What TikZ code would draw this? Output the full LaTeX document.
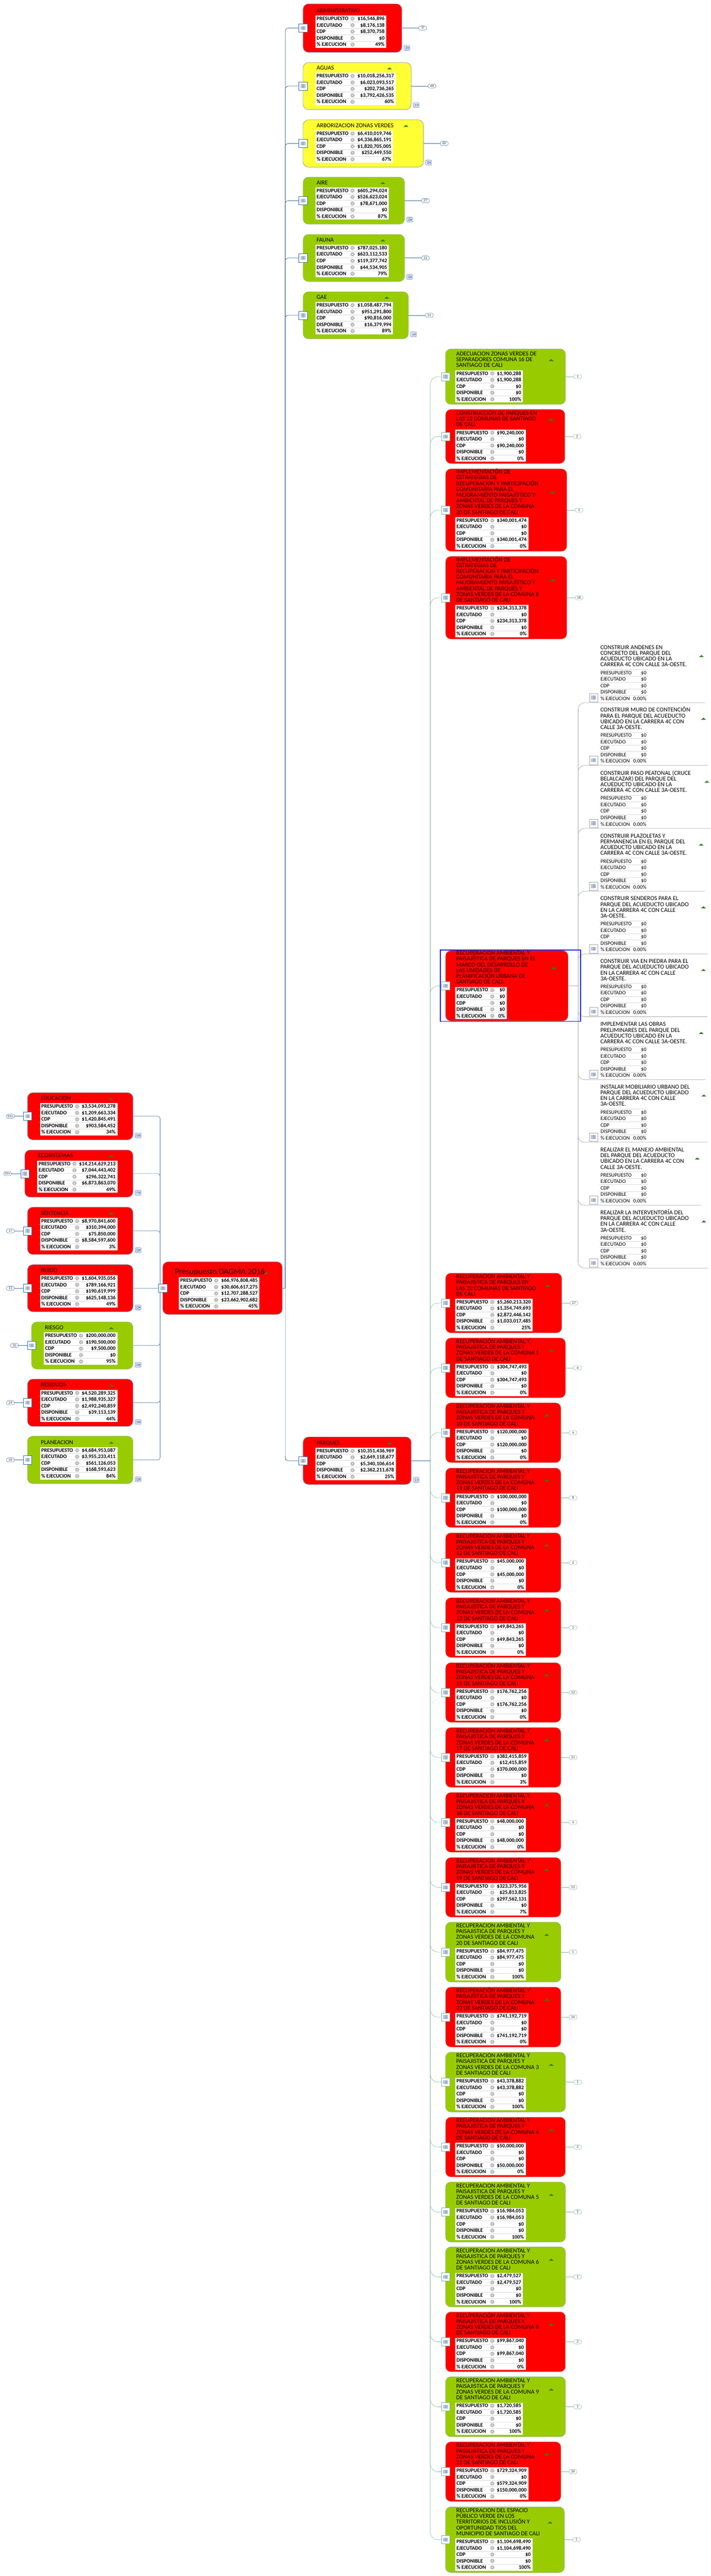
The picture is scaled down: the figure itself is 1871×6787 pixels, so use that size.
\documentclass[tikz,border=0pt]{standalone}
\usepackage{fontspec}
\setmainfont{Carlito}
\usetikzlibrary{calc}
\definecolor{fRed}{HTML}{FF0000}
\definecolor{fGreen}{HTML}{99CC00}
\definecolor{fYellow}{HTML}{FFFF33}
\definecolor{tRed}{HTML}{260000}
\definecolor{bdBlue}{HTML}{7484A8}
\definecolor{bdTan}{HTML}{A89C84}
\definecolor{bdGreen}{HTML}{7FAE70}
\definecolor{linkDark}{HTML}{3F6F9E}
\definecolor{linkLight}{HTML}{9FBCD6}
\definecolor{linkGreen}{HTML}{7FB59A}
\definecolor{linkGray}{HTML}{A8A8A8}
\definecolor{rowLine}{HTML}{DADADA}
\definecolor{gearGray}{HTML}{B4B4B4}
\definecolor{triGreen}{HTML}{2E7F1E}
\definecolor{iconFill}{HTML}{B6CAE6}
\definecolor{vidEdge}{HTML}{6F86B8}
\definecolor{frameBlue}{HTML}{1A1AE6}
\pgfdeclarelayer{bg}
\pgfsetlayers{bg,main}
\tikzset{
  budget/.style={rectangle,rounded corners=14pt,line width=0.8pt,inner sep=0pt},
  titletext/.style={anchor=south west,align=left,inner sep=0pt,text depth=3pt},
  rowlab/.style={anchor=base west,inner sep=0pt,font=\fontsize{14}{15}\selectfont\bfseries},
  rowval/.style={anchor=base east,inner sep=0pt,font=\fontsize{14}{15}\selectfont\bfseries},
  rowlabw/.style={anchor=base west,inner sep=0pt,font=\fontsize{14}{15}\selectfont},
  rowvalw/.style={anchor=base east,inner sep=0pt,font=\fontsize{14}{15}\selectfont},
  tablebox/.style={rectangle,fill=white,anchor=north west,inner sep=0pt},
  docicon/.style={rectangle,fill=white,line width=0.8pt,minimum width=22pt,minimum height=22pt,inner sep=0pt},
  pillbox/.style={rectangle,rounded corners=5pt,fill=white,line width=0.7pt,minimum width=21pt,minimum height=11pt,inner sep=0pt,font=\fontsize{10}{10}\selectfont,text=black!75},
  linkA/.style={linkDark,line width=0.9pt,rounded corners=6pt},
  linkAs/.style={linkDark,line width=0.9pt},
  linkB/.style={linkDark,line width=1.1pt,rounded corners=8pt},
  linkBstem/.style={linkLight,line width=1.6pt,rounded corners=8pt},
  linkC/.style={linkGreen,line width=0.8pt,rounded corners=20pt},
  linkD/.style={linkGray,line width=1pt,rounded corners=16pt},
}
\newcommand{\GEAR}[2]{%
  \draw[gearGray,line width=1.7pt,dash pattern=on 1.5pt off 1.5pt] (#1,#2) circle (5.2pt);
  \fill[gearGray] (#1,#2) circle (4.4pt);
  \fill[white] (#1,#2) circle (1.8pt);
}
\newcommand{\TRI}[2]{%
  \fill[triGreen] ($(#1,#2)+(-6.5,2.6)$) -- ($(#1,#2)+(6.5,2.6)$) -- ($(#1,#2)+(0,-2.8)$) -- cycle;
}
\newcommand{\ICON}[4]{% name, x, y, edge colour
  \node[docicon,draw=#4] (#1) at (#2,#3) {};
  \fill[iconFill] ($(#2,#3)+(-6.5,-5)$) rectangle ($(#2,#3)+(6.5,5)$);
  \fill[iconFill!70!black!70] ($(#2,#3)+(-2,-5)$) rectangle ($(#2,#3)+(3.5,5)$);
}
\newcommand{\VIDEO}[3]{% name, x, y
  \node[rectangle,rounded corners=1.5pt,draw=vidEdge,fill=iconFill!50,line width=0.8pt,minimum width=15pt,minimum height=13pt,inner sep=0pt] (#1) at (#2,#3) {};
  \fill[vidEdge] ($(#2,#3)+(-3.5,-3)$) rectangle ($(#2,#3)+(1.5,3)$);
  \fill[white] ($(#2,#3)+(-2,-1.8)$) rectangle ($(#2,#3)+(0.3,1.8)$);
  \fill[vidEdge] ($(#2,#3)+(1.5,0)$) -- ($(#2,#3)+(5.5,-3)$) -- ($(#2,#3)+(5.5,3)$) -- cycle;
}
\pgfkeys{/bb/.is family,/bb,
  id/.store in=\bbid, col/.store in=\bbcol, tc/.store in=\bbtc, bd/.store in=\bbbd,
  ie/.store in=\bbie, pe/.store in=\bbpe,
  L/.store in=\bbL, R/.store in=\bbR, T/.store in=\bbT, B/.store in=\bbB,
  tabr/.store in=\bbtabr, tabo/.store in=\bbtabo, gearo/.store in=\bbgearo, tito/.store in=\bbtito,
  gapb/.store in=\bbgapb, trio/.store in=\bbtrio, n/.store in=\bbn,
  side/.store in=\bbside, pill/.store in=\bbpill, pillo/.store in=\bbpillo, vid/.store in=\bbvid,
  title/.store in=\bbtitle, tsize/.store in=\bbtsize,
  red/.style={col=fRed,tc=tRed},
  grn/.style={col=fGreen,tc=black},
  yel/.style={col=fYellow,tc=black},
  sLeft/.style={L=72.4,R=350,side=0,pillo=45,vid=1,tabo=32.6,gearo=130.6,tito=35.2,gapb=96.4,trio=57,n=1,tabr=308.7,bd=bdBlue,ie=linkDark,pe=linkDark,tsize=16},
  sTop/.style={L=798,side=1,pillo=55,vid=1,tabo=32,gearo=130,tito=35.3,gapb=97,trio=57,n=1,bd=bdBlue,ie=linkDark,pe=linkDark,tsize=16},
  sCol/.style={L=1173,side=1,pillo=32,vid=0,tabo=25,gearo=123,tito=28,gapb=90,trio=37.5,n=4,bd=bdTan,ie=linkGreen,pe=linkGreen,tsize=16},
}
\newcommand{\ROW}[3]{% k, label, value
  \pgfmathsetmacro\rowY{\tabT+17*(#1-1)+12.9}
  \node[rowlab] (\bbid-lab#1) at (\labX,\rowY) {#2};
  \node[rowval] (\bbid-val#1) at (\valX,\rowY) {#3};
  \pgfmathsetmacro\gearY{\tabT+17*(#1-1)+8.5}
  \GEAR{\gearX}{\gearY}
}
\newcommand{\BB}[6]{%
  \pgfkeys{/bb,#1}%
  \pgfmathsetmacro\bbW{\bbR-\bbL}%
  \pgfmathsetmacro\bbH{\bbB-\bbT}%
  \pgfmathsetmacro\bbCx{(\bbR+\bbL)/2}%
  \pgfmathsetmacro\bbCy{(\bbT+\bbB)/2}%
  \pgfmathsetmacro\tabX{\bbL+\bbtabo}%
  \pgfmathsetmacro\tabW{\bbtabr-\tabX}%
  \pgfmathsetmacro\tabT{\bbB-\bbgapb}%
  \pgfmathsetmacro\labX{\tabX+3.5}%
  \pgfmathsetmacro\valX{\bbtabr-4.3}%
  \pgfmathsetmacro\gearX{\bbL+\bbgearo}%
  \pgfmathsetmacro\titX{\bbL+\bbtito}%
  \pgfmathsetmacro\titY{\tabT-4.5}%
  \pgfmathsetmacro\triX{\bbR-\bbtrio}%
  \pgfmathsetmacro\triY{\tabT-11.5-(\bbn-1)*7.6}%
  \node[budget,fill=\bbcol,draw=\bbbd,minimum width=\bbW pt,minimum height=\bbH pt] (\bbid) at (\bbCx,\bbCy) {};
  \node[titletext,text=\bbtc,font=\fontsize{\bbtsize}{15.2}\selectfont] (\bbid-title) at (\titX,\titY) {\bbtitle};
  \TRI{\triX}{\triY}
  \node[tablebox,minimum width=\tabW pt,minimum height=85pt] (\bbid-table) at (\tabX,\tabT) {};
  \foreach \k in {1,2,3,4} {\pgfmathsetmacro\sepY{\tabT+17*\k}\draw[rowLine,line width=1.1pt] (\tabX,\sepY) -- (\bbtabr,\sepY);}
  \ROW{1}{PRESUPUESTO}{\$#2}
  \ROW{2}{EJECUTADO}{\$#3}
  \ROW{3}{CDP}{\$#4}
  \ROW{4}{DISPONIBLE}{\$#5}
  \ROW{5}{\% EJECUCION}{#6\%}
  \ICON{\bbid-icon}{\bbL}{\bbCy}{\bbie}
  \ifnum\bbside=0
    \pgfmathsetmacro\pX{\bbL-\bbpillo}%
    \node[pillbox,draw=\bbpe] (\bbid-pill) at (\pX,\bbCy) {\bbpill};
    \draw[\bbpe,line width=0.8pt] (\bbid-pill.east) -- (\bbid-icon.west);
  \fi
  \ifnum\bbside=1
    \pgfmathsetmacro\pX{\bbR+\bbpillo}%
    \node[pillbox,draw=\bbpe] (\bbid-pill) at (\pX,\bbCy) {\bbpill};
    \draw[\bbpe,line width=0.8pt] (\bbid.east) -- (\bbid-pill.west);
  \fi
  \ifnum\bbvid=1
    \pgfmathsetmacro\vX{\bbR+13.5}%
    \pgfmathsetmacro\vY{\tabT+85}%
    \VIDEO{\bbid-video}{\vX}{\vY}
  \fi
}
\newcommand{\CHROW}[3]{% k, label, value
  \pgfmathsetmacro\rowY{\chT+17*(#1-1)+12.9}
  \node[rowlabw] (\chid-lab#1) at (1581,\rowY) {#2};
  \node[rowvalw] (\chid-val#1) at (1702,\rowY) {#3};
  \pgfmathsetmacro\sepY{\chT+17*(#1-1)}
  \draw[rowLine,line width=1.1pt] (1578,\sepY) -- (1706.4,\sepY);
}
\newcommand{\CH}[5]{% id, bottom, title, tri x, line end x
  \def\chid{#1}%
  \pgfmathsetmacro\chT{#2-87.6}%
  \pgfmathsetmacro\titY{\chT-4.5}%
  \pgfmathsetmacro\triY{#2-123}%
  \pgfmathsetmacro\icY{#2-13.6}%
  \node[titletext,font=\fontsize{16}{15.2}\selectfont] (#1-title) at (1580.5,\titY) {#3};
  \TRI{#4}{\triY}
  \CHROW{1}{PRESUPUESTO}{\$0}
  \CHROW{2}{EJECUTADO}{\$0}
  \CHROW{3}{CDP}{\$0}
  \CHROW{4}{DISPONIBLE}{\$0}
  \CHROW{5}{\% EJECUCION}{0.00\%}
  \ICON{#1-icon}{1562.7}{\icY}{linkGray}
  \coordinate (#1-end) at (#5,#2);
}
\begin{document}
\begin{tikzpicture}[x=1pt,y=-1pt]
\useasboundingbox (0,0) rectangle (1871,6787);
\begin{pgfonlayer}{bg}
\fill[white] (0,0) rectangle (1871,6787);
\end{pgfonlayer}
\coordinate (stemA) at (421.4,0);
\coordinate (stemB) at (751,0);
\coordinate (stemC) at (1133,0);
\coordinate (stemD) at (1522.2,0);

% root
\BB{id=main,L=428.6,R=743,T=3324.5,B=3463,side=2,vid=0,tabo=42.4,gearo=140.4,tito=31.4,gapb=97.6,trio=42,n=1,tabr=683,bd=bdBlue,ie=linkDark,pe=linkDark,tsize=22,red,title={Presupuesto DAGMA 2016}}{66,976,808,485}{30,606,617,275}{12,707,288,527}{23,662,902,682}{45}

% left branch
\BB{id=l1,sLeft,red,T=2879,B=3003,pill={99+},title={EDUCACION}}{3,534,093,278}{1,209,663,334}{1,420,845,491}{903,584,452}{34}
\BB{id=l2,sLeft,red,L=65.3,tabo=32.7,gearo=130.7,T=3030,B=3154,pill={99+},title={ECOSISTEMAS}}{14,214,629,213}{7,044,443,402}{296,322,741}{6,873,863,070}{49}
\BB{id=l3,sLeft,red,T=3180.6,B=3305,pill={17},title={SENTENCIA}}{8,970,841,600}{310,394,000}{75,850,000}{8,584,597,600}{3}
\BB{id=l4,sLeft,red,T=3332,B=3456,pill={13},title={RUIDO}}{1,604,935,056}{789,166,921}{190,619,999}{625,148,136}{49}
\BB{id=l5,sLeft,grn,L=83,tabo=32.3,gearo=130.3,T=3483,B=3607,pill={70},bd=bdGreen,title={RIESGO}}{200,000,000}{190,500,000}{9,500,000}{0}{95}
\BB{id=l6,sLeft,red,T=3633.6,B=3758,pill={29},title={RESIDUOS}}{4,520,289,325}{1,988,935,327}{2,492,240,859}{39,113,139}{44}
\BB{id=l7,sLeft,grn,T=3784,B=3909,pill={39},bd=bdGreen,title={PLANEACION}}{4,684,953,087}{3,955,233,411}{561,126,053}{168,593,623}{84}

% top branch
\BB{id=t1,sTop,red,R=1057.7,T=10.3,B=137.8,tabr=1017,pill={4},title={ADMINISTRATIVO}}{16,546,896}{8,176,138}{8,370,758}{0}{49}
\BB{id=t2,sTop,yel,R=1082.3,T=164.8,B=288.8,tabr=1041.7,pill={48},title={AGUAS}}{10,018,256,317}{6,023,093,517}{202,736,265}{3,792,426,535}{60}
\BB{id=t3,sTop,yel,R=1114.7,T=315.7,B=440.3,tabr=1034.7,trio=46,pill={60},title={ARBORIZACION ZONAS VERDES}}{6,410,019,746}{4,336,865,191}{1,820,705,005}{252,449,550}{67}
\BB{id=t4,sTop,grn,R=1065,T=466.7,B=590.7,tabr=1023.7,bd=bdGreen,pill={27},title={AIRE}}{605,294,024}{526,623,024}{78,671,000}{0}{87}
\BB{id=t5,sTop,grn,R=1065,T=617.7,B=741.7,tabr=1023.7,bd=bdGreen,pill={22},title={FAUNA}}{787,025,180}{623,112,533}{119,377,742}{44,534,905}{79}
\BB{id=t6,sTop,grn,R=1075.3,T=768.7,B=892.7,tabr=1034.7,bd=bdGreen,pill={31},title={GAE}}{1,058,487,794}{951,291,800}{90,816,000}{16,379,994}{89}
\BB{id=parques,sTop,red,R=1082.4,T=3786,B=3911,tabr=1042,side=2,title={PARQUES}}{10,351,436,969}{2,649,118,677}{5,340,106,614}{2,362,211,678}{25}

% parks branch
\BB{id=a1,sCol,grn,bd=bdGreen,R=1488.7,T=919.4,B=1065.3,tabr=1376.7,n=3,pill={1},title={ADECUACION ZONAS VERDES DE\\SEPARADORES  COMUNA 16 DE\\SANTIAGO DE CALI}}{1,900,288}{1,900,288}{0}{0}{100}
\BB{id=a2,sCol,red,R=1487.3,T=1078.6,B=1221.4,tabr=1383.7,n=3,pill={2},title={CONSTRUCCIÓN DE PARQUES EN\\LAS 22 COMUNAS DE SANTIAGO\\DE CALI}}{90,240,000}{0}{90,240,000}{0}{0}
\BB{id=a3,sCol,red,R=1492.3,T=1235.2,B=1452.6,tabr=1390.7,n=8,pill={3},title={IMPLEMENTACIÓN DE\\ESTRATEGIAS DE\\RECUPERACIÓN Y PARTICIPACIÓN\\COMUNITARIA PARA EL\\MEJORAMIENTO PAISAJÍSTICO Y\\AMBIENTAL DE PARQUES Y\\ZONAS VERDES DE LA COMUNA\\20 DE SANTIAGO DE CALI}}{340,001,474}{0}{0}{340,001,474}{0}
\BB{id=a4,sCol,red,R=1492.3,T=1465.8,B=1683.7,tabr=1390.7,n=8,pill={18},title={IMPLEMENTACIÓN DE\\ESTRATEGIAS DE\\RECUPERACION Y PARTICIPACIÓN\\COMUNITARIA PARA EL\\MEJORAMIENTO PAISAJÍSTICO Y\\AMBIENTAL DE PARQUES Y\\ZONAS VERDES DE LA COMUNA 6\\DE SANTIAGO DE CALI.}}{234,313,378}{0}{234,313,378}{0}{0}
\BB{id=rec,sCol,red,R=1495.6,T=2504.6,B=2690,tabr=1333.8,n=6,side=2,title={RECUPERACIÓN AMBIENTAL Y\\PAISAJÍSTICA DE PARQUES EN EL\\MARCO DEL DESARROLLO DE\\LAS UNIDADES DE\\PLANIFICACIÓN URBANA DE\\SANTIAGO DE CALI.}}{0}{0}{0}{0}{0}
\node[rectangle,draw=frameBlue,line width=2pt,minimum width=369.7pt,minimum height=188.3pt,inner sep=0pt] (recframe) at (1343.85,2596.85) {};

\BB{id=b1,sCol,red,R=1479,T=3354.2,B=3511.8,tabr=1402,pill={27},title={RECUPERACION AMBIENTAL Y\\PAISAJISTICA DE PARQUES EN\\LAS 22 COMUNAS DE SANTIAGO\\DE CALI}}{5,260,213,320}{1,354,749,693}{2,872,446,142}{1,033,017,485}{25}
\BB{id=b2,sCol,red,R=1488.8,T=3525,B=3682.7,tabr=1391,pill={6},title={RECUPERACIÓN AMBIENTAL Y\\PAISAJISTICA DE PARQUES Y\\ZONAS VERDES DE LA COMUNA 1\\DE SANTIAGO DE CALI}}{304,747,493}{0}{304,747,493}{0}{0}
\BB{id=b3,sCol,red,R=1476.7,T=3696,B=3853.6,tabr=1391,pill={4},title={RECUPERACION AMBIENTAL Y\\PAISAJISTICA DE PARQUES Y\\ZONAS VERDES DE LA COMUNA\\10 DE SANTIAGO DE CALI}}{120,000,000}{0}{120,000,000}{0}{0}
\BB{id=b4,sCol,red,R=1476.7,T=3867.6,B=4024.5,tabr=1391,pill={8},title={RECUPERACION AMBIENTAL Y\\PAISAJISTICA DE PARQUES Y\\ZONAS VERDES DE LA COMUNA\\11 DE SANTIAGO DE CALI}}{100,000,000}{0}{100,000,000}{0}{0}
\BB{id=b5,sCol,red,R=1476.7,T=4038.5,B=4195.4,tabr=1384,pill={2},title={RECUPERACION AMBIENTAL Y\\PAISAJISTICA DE PARQUES Y\\ZONAS VERDES DE LA COMUNA\\12 DE SANTIAGO DE CALI}}{45,000,000}{0}{45,000,000}{0}{0}
\BB{id=b6,sCol,red,R=1476.7,T=4209.5,B=4366.8,tabr=1383.7,pill={2},title={RECUPERACION AMBIENTAL Y\\PAISAJISTICA DE PARQUES Y\\ZONAS VERDES DE LA COMUNA\\13 DE SANTIAGO DE CALI}}{49,843,265}{0}{49,843,265}{0}{0}
\BB{id=b7,sCol,red,R=1476.7,T=4380.6,B=4537.8,tabr=1390.7,pill={12},title={RECUPERACIÓN AMBIENTAL Y\\PAISAJISTICA DE PARQUES Y\\ZONAS VERDES DE LA COMUNA\\15 DE SANTIAGO DE CALI}}{176,762,256}{0}{176,762,256}{0}{0}
\BB{id=b8,sCol,red,R=1476.7,T=4551.5,B=4709,tabr=1390.7,pill={21},title={RECUPERACION AMBIENTAL Y\\PAISAJISTICA DE PARQUES Y\\ZONAS VERDES DE LA COMUNA\\17 DE SANTIAGO DE CALI}}{382,415,859}{12,415,859}{370,000,000}{0}{3}
\BB{id=b9,sCol,red,R=1476.7,T=4722.4,B=4880,tabr=1383.7,pill={4},title={RECUPERACION AMBIENTAL Y\\PAISAJISTICA DE PARQUES Y\\ZONAS VERDES DE LA COMUNA\\18 DE SANTIAGO DE CALI}}{48,000,000}{0}{0}{48,000,000}{0}
\BB{id=b10,sCol,red,R=1476.7,T=4893.9,B=5051,tabr=1390.7,pill={15},title={RECUPERACION AMBIENTAL Y\\PAISAJISTICA DE PARQUES Y\\ZONAS VERDES DE LA COMUNA\\19 DE SANTIAGO DE CALI}}{323,375,956}{25,813,825}{297,562,131}{0}{7}
\BB{id=b11,sCol,grn,bd=bdGreen,R=1476.7,T=5064.4,B=5222,tabr=1383.7,pill={1},title={RECUPERACION AMBIENTAL Y\\PAISAJISTICA DE PARQUES Y\\ZONAS VERDES DE LA COMUNA\\20 DE SANTIAGO DE CALI}}{84,977,475}{84,977,475}{0}{0}{100}
\BB{id=b12,sCol,red,R=1476.7,T=5235.4,B=5393.3,tabr=1390.7,pill={16},title={RECUPERACIÓN AMBIENTAL Y\\PAISAJÍSTICA DE PARQUES Y\\ZONAS VERDES DE LA COMUNA\\22 DE SANTIAGO DE CALI}}{741,192,719}{0}{0}{741,192,719}{0}
\BB{id=b13,sCol,grn,bd=bdGreen,R=1488.7,T=5407,B=5564.3,tabr=1383.7,pill={1},title={RECUPERACION AMBIENTAL Y\\PAISAJISTICA DE PARQUES Y\\ZONAS VERDES DE LA COMUNA 3\\DE SANTIAGO DE CALI}}{43,378,882}{43,378,882}{0}{0}{100}
\BB{id=b14,sCol,red,R=1488.7,T=5578,B=5735.4,tabr=1383.7,pill={2},title={RECUPERACION AMBIENTAL Y\\PAISAJISTICA DE PARQUES Y\\ZONAS VERDES DE LA COMUNA 4\\DE SANTIAGO DE CALI}}{50,000,000}{0}{0}{50,000,000}{0}
\BB{id=b15,sCol,grn,bd=bdGreen,R=1488.7,T=5749,B=5907,tabr=1383.7,pill={1},title={RECUPERACION AMBIENTAL Y\\PAISAJISTICA DE PARQUES Y\\ZONAS VERDES DE LA COMUNA 5\\DE SANTIAGO DE CALI}}{16,984,053}{16,984,053}{0}{0}{100}
\BB{id=b16,sCol,grn,bd=bdGreen,R=1488.7,T=5919.8,B=6078,tabr=1376.7,pill={1},title={RECUPERACION AMBIENTAL Y\\PAISAJISTICA DE PARQUES Y\\ZONAS VERDES DE LA COMUNA 6\\DE SANTIAGO DE CALI}}{2,479,527}{2,479,527}{0}{0}{100}
\BB{id=b17,sCol,red,R=1488.7,T=6091,B=6249,tabr=1383.7,pill={2},title={RECUPERACIÓN AMBIENTAL Y\\PAISAJISTICA DE PARQUES Y\\ZONAS VERDES DE LA COMUNA 8\\DE SANTIAGO DE CALI}}{99,867,040}{0}{99,867,040}{0}{0}
\BB{id=b18,sCol,grn,bd=bdGreen,R=1488.7,T=6262,B=6420,tabr=1376.7,pill={1},title={RECUPERACION AMBIENTAL Y\\PAISAJISTICA DE PARQUES Y\\ZONAS VERDES DE LA COMUNA 9\\DE SANTIAGO DE CALI}}{1,720,585}{1,720,585}{0}{0}{100}
\BB{id=b19,sCol,red,R=1476.7,T=6433.4,B=6590.6,tabr=1390.7,pill={26},title={RECUPERACION AMBIENTAL Y\\PASIAJISTICA DE PARQUES Y\\ZONAS VERDES DE LA COMUNA\\21 DE SANTIAGO DE CALI}}{729,324,909}{0}{579,324,909}{150,000,000}{0}
\BB{id=b20,sCol,grn,bd=bdGreen,R=1485.7,T=6604.8,B=6777.8,tabr=1401.7,n=5,pill={1},title={RECUPERACION DEL ESPACIO\\PÚBLICO VERDE EN LOS\\TERRITORIOS DE INCLUSIÓN Y\\OPORTUNIDAD TIOS DEL\\MUNICIPIO DE SANTIAGO DE CALI}}{1,104,698,490}{1,104,698,490}{0}{0}{100}

% white children of the framed box
\CH{c1}{1851.6}{CONSTRUIR ANDENES EN\\CONCRETO DEL PARQUE  DEL\\ACUEDUCTO UBICADO EN LA\\CARRERA 4C CON CALLE 3A-OESTE.}{1846.8}{1856.6}
\CH{c2}{2016.7}{CONSTRUIR MURO DE CONTENCIÓN\\PARA EL PARQUE  DEL ACUEDUCTO\\UBICADO EN LA CARRERA 4C CON\\CALLE 3A-OESTE.}{1852}{1863}
\CH{c3}{2182.6}{CONSTRUIR PASO PEATONAL (CRUCE\\BELALCAZAR) DEL PARQUE  DEL\\ACUEDUCTO UBICADO EN LA\\CARRERA 4C CON CALLE 3A-OESTE.}{1861}{1871}
\CH{c4}{2348.4}{CONSTRUIR PLAZOLETAS Y\\PERMANENCIA EN EL PARQUE  DEL\\ACUEDUCTO UBICADO EN LA\\CARRERA 4C CON CALLE 3A-OESTE.}{1846}{1856}
\CH{c5}{2513.5}{CONSTRUIR SENDEROS PARA EL\\PARQUE  DEL ACUEDUCTO UBICADO\\EN LA CARRERA 4C CON CALLE\\3A-OESTE.}{1852}{1863}
\CH{c6}{2678.7}{CONSTRUIR VIA EN PIEDRA PARA EL\\PARQUE  DEL ACUEDUCTO UBICADO\\EN LA CARRERA 4C CON CALLE\\3A-OESTE.}{1852}{1862}
\CH{c7}{2844.6}{IMPLEMENTAR LAS OBRAS\\PRELIMINARES DEL PARQUE  DEL\\ACUEDUCTO UBICADO EN LA\\CARRERA 4C CON CALLE 3A-OESTE.}{1846}{1857}
\CH{c8}{3009.4}{INSTALAR MOBILIARIO URBANO DEL\\PARQUE  DEL ACUEDUCTO UBICADO\\EN LA CARRERA 4C CON CALLE\\3A-OESTE.}{1853}{1863}
\CH{c9}{3175.4}{REALIZAR EL MANEJO AMBIENTAL\\DEL PARQUE  DEL ACUEDUCTO\\UBICADO EN LA CARRERA 4C CON\\CALLE 3A-OESTE.}{1835.6}{1846}
\CH{c10}{3341}{REALIZAR LA INTERVENTORÍA DEL\\PARQUE  DEL ACUEDUCTO UBICADO\\EN LA CARRERA 4C CON CALLE\\3A-OESTE.}{1853}{1863.6}

% connectors
\begin{pgfonlayer}{bg}
\foreach \c in {l1,l2,l3,l4,l5,l6,l7}
  \draw[linkA] (\c.east) -- (\c.east -| stemA) -- (main-icon.west -| stemA);
\draw[linkAs] (main-icon.west -| stemA) -- (main-icon.east);
\foreach \c in {t1,t2,t3,t4,t5,t6}
  \draw[linkB] (main.east -| stemB) -- (\c-icon.west -| stemB) -- (\c-icon.west);
\draw[linkBstem] (main.east -| stemB) -- (parques-icon.west -| stemB);
\draw[linkB] (parques-icon.west -| stemB) ++(0,-12) -- (parques-icon.west -| stemB) -- (parques-icon.west);
\draw[linkDark,line width=1.1pt] (main.east) -- (main.east -| stemB);
\foreach \c in {a1,a2,a3,a4,rec,b1,b2,b3,b4,b5,b6,b7,b8,b9,b10,b11,b12,b13,b14,b15,b16,b17,b18,b19,b20}
  \draw[linkC] (parques.east -| stemC) -- (\c-icon.west -| stemC) -- (\c-icon.west);
\draw[linkDark,line width=0.9pt] (parques.east) -- (parques.east -| stemC);
\foreach \c in {c1,c2,c3,c4,c5,c6,c7,c8,c9,c10}
  \draw[linkD] (rec.east -| stemD) -- (\c-end -| stemD) -- (\c-end);
\draw[linkGray,line width=1pt] (rec.east) -- (rec.east -| stemD);
\end{pgfonlayer}
\end{tikzpicture}
\end{document}
